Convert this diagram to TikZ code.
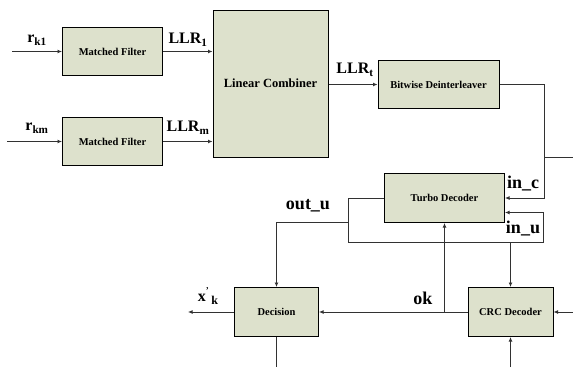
\documentclass[tikz,border=0pt]{standalone}
\usepackage{fontspec}
\setmainfont{Liberation Serif}
\usetikzlibrary{arrows.meta, positioning, calc}
\definecolor{boxfill}{RGB}{221, 225, 204}
\definecolor{wiregray}{RGB}{50, 50, 50}

\begin{document}
\begin{tikzpicture}[x=1pt, y=-1pt,
        block/.style={draw=black, fill=boxfill, line width=1pt, inner sep=0pt,
            font=\fontsize{10.5}{12}\selectfont\bfseries},
        wire/.style={line width=1pt, draw=wiregray},
        link/.style={wire, -{Latex[length=4.5pt, width=4pt]}},
        siglabel/.style={inner sep=0pt, font=\fontsize{16}{18}\selectfont\bfseries},
        portlabel/.style={inner sep=0pt, font=\fontsize{18}{20}\selectfont\bfseries}]
    \useasboundingbox (0,0) rectangle (573,367);

    % Blocchi
    \node[block, minimum width=100pt, minimum height=48pt] (mfA) at (112.5,51.5) {Matched Filter};
    \node[block, minimum width=100pt, minimum height=48pt] (mfB) at (112.5,141.5) {Matched Filter};
    \node[block, minimum width=115pt, minimum height=147pt,
        font=\fontsize{12.5}{14}\selectfont\bfseries] (comb) at (270.5,83.5) {Linear Combiner};
    \node[block, minimum width=121pt, minimum height=48pt] (deint) at (438.5,84.5) {Bitwise Deinterleaver};
    \node[block, minimum width=120pt, minimum height=49pt] (turbo) at (444.5,198) {Turbo Decoder};
    \node[block, minimum width=85pt, minimum height=49pt] (crc) at (510.5,312) {CRC Decoder};
    \node[block, minimum width=84pt, minimum height=49pt] (dec) at (276.5,312) {Decision};

    % Punti liberi
    \coordinate (inA) at (12,51.5);
    \coordinate (inB) at (7,141.5);
    \coordinate (tap) at (544.5,84.5);
    \coordinate (outR) at (573,157.5);
    \coordinate (loopL) at (348.5,198);
    \coordinate (loopR) at (543.5,212.5);
    \coordinate (xout) at (188,312);
    \coordinate (crcIn) at (573,312);
    \coordinate (crcLow) at (510.5,367);
    \coordinate (decLow) at (276.5,367);

    % Ingressi
    \draw[link] (inA) -- (mfA);
    \draw[link] (inB) -- (mfB);
    \draw[link] (mfA.east) -- (mfA.east -| comb.west);
    \draw[link] (mfB.east) -- (mfB.east -| comb.west);
    \draw[link] (comb.east |- deint.west) -- (deint.west);

    % Deinterleaver -> Turbo (in_c)
    \draw[wire] (deint.east) -- (tap);
    \draw[link] (tap) |- (turbo.east);
    \draw[wire] (tap |- outR) -- (outR);

    % Anello out_u -> in_u
    \draw[wire] (turbo.west) -- (loopL) -- (loopL |- 0,242.5) -| (loopR);
    \draw[link] (loopR) -- (loopR -| turbo.east);
    \draw[link] (loopL |- 0,222.5) -| (dec.north);
    \draw[link] (crc.north |- 0,242.5) -- (crc.north);

    % ok
    \draw[link] (crc.west) -- (dec.east);
    \draw[link] (turbo.south |- crc.west) -- (turbo.south);

    % Uscite e ingressi CRC
    \draw[link] (dec.west) -- (xout);
    \draw[wire] (dec.south) -- (decLow);
    \draw[link] (crcIn) -- (crc.east);
    \draw[link] (crcLow) -- (crc.south);

    % Etichette
    \node[siglabel] (lblA) at (37,40) {r\textsubscript{k1}};
    \node[siglabel] (lblB) at (37,128) {r\textsubscript{km}};
    \node[siglabel] (lblC) at (188,40) {LLR\textsubscript{1}};
    \node[siglabel] (lblD) at (188,128) {LLR\textsubscript{m}};
    \node[siglabel] (lblE) at (355,70) {LLR\textsubscript{t}};
    \node[portlabel] (lblF) at (523,184) {in\_c};
    \node[portlabel] (lblG) at (523,229) {in\_u};
    \node[portlabel] (lblH) at (308,206) {out\_u};
    \node[portlabel] (lblI) at (423,298) {ok};
    \node[siglabel] (lblJ) at (208,296)
        {x\raisebox{1.1ex}{\fontsize{9}{9}\selectfont '}\,\raisebox{-0.45ex}{\fontsize{12}{12}\selectfont k}};
\end{tikzpicture}
\end{document}
